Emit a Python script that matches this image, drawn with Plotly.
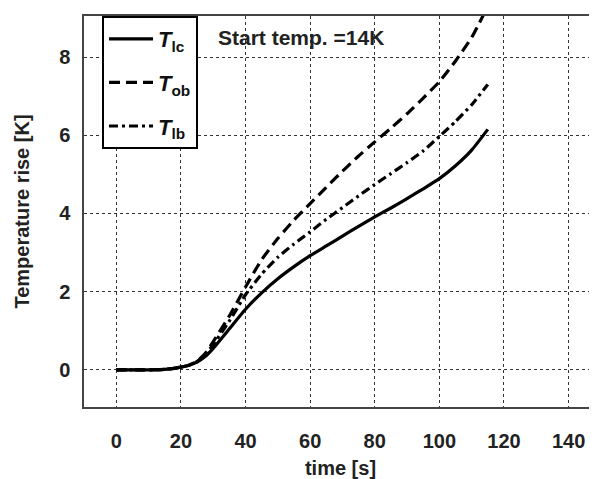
import plotly.graph_objects as go

time_s = [0, 10, 15, 20, 22.5, 25, 27.5, 30, 35, 40, 45, 50, 55, 60, 65, 70, 75, 80, 85, 90, 95, 100, 105, 110, 115]
T_lc = [0, 0, 0.01, 0.07, 0.12, 0.2, 0.34, 0.55, 1.05, 1.55, 1.97, 2.33, 2.64, 2.92, 3.17, 3.42, 3.67, 3.91, 4.14, 4.38, 4.63, 4.89, 5.22, 5.62, 6.15]
T_ob = [0, 0, 0.01, 0.07, 0.12, 0.22, 0.42, 0.72, 1.38, 2.12, 2.82, 3.36, 3.83, 4.25, 4.67, 5.08, 5.47, 5.83, 6.18, 6.55, 6.95, 7.37, 7.9, 8.5, 9.3]
T_lb = [0, 0, 0.01, 0.07, 0.12, 0.21, 0.39, 0.65, 1.25, 1.92, 2.45, 2.88, 3.22, 3.53, 3.85, 4.15, 4.45, 4.74, 5.02, 5.3, 5.6, 5.97, 6.35, 6.78, 7.3]

x_ticks = [0, 20, 40, 60, 80, 100, 120, 140]
y_ticks = [0, 2, 4, 6, 8]

names = ["<b><i>T</i></b><sub><b>lc</b></sub>", "<b><i>T</i></b><sub><b>ob</b></sub>", "<b><i>T</i></b><sub><b>lb</b></sub>"]
series = [T_lc, T_ob, T_lb]
dashes = ["solid", "11px,6px", "9px,4px,3px,4px"]

fig = go.Figure()
for i, (nm, ys, ds) in enumerate(zip(names, series, dashes)):
    fig.add_trace(go.Scatter(x=time_s, y=ys, mode="lines", name=nm, legendgroup=f"g{i}",
                             line=dict(color="black", width=3.2, dash=ds, shape="spline", smoothing=0.5)))

# The page body adds an 8px offset, so the figure is 8px smaller and margins shifted
font_family = "Liberation Sans, Arial, sans-serif"
fig.update_layout(
    width=589, height=471,
    margin=dict(l=76, r=0, t=8, b=72, autoexpand=False),
    paper_bgcolor="white", plot_bgcolor="white",
    font=dict(family=font_family, size=20, color="#222"),
    showlegend=True,
    legend=dict(x=(102 - 84) / 513, y=1.0, xanchor="left", yanchor="top",
                bgcolor="white", bordercolor="black", borderwidth=2,
                font=dict(size=22, color="#111"), tracegroupgap=12,
                itemwidth=44),
    xaxis=dict(range=[-10, 148.8], tickvals=x_ticks, ticktext=[str(v) for v in x_ticks],
               showgrid=True, gridcolor="#333", griddash="dot", gridwidth=1,
               showline=True, linecolor="#444", linewidth=1.5, mirror=True,
               zeroline=False, ticks="", ticklabelstandoff=15, automargin=True,
               tickfont=dict(size=20, weight="bold", color="#222"),
               title=dict(text="time [s]", standoff=28, font=dict(size=20, weight="bold", color="#222"))),
    yaxis=dict(range=[-0.95, 9.05], tickvals=y_ticks, ticktext=[str(v) for v in y_ticks],
               showgrid=True, gridcolor="#333", griddash="dot", gridwidth=1,
               showline=True, linecolor="#444", linewidth=1.5, mirror=False,
               zeroline=False, ticks="", ticklabelstandoff=8, automargin=True,
               tickfont=dict(size=20, weight="bold", color="#222"),
               title=dict(text="Temperature rise [K]", standoff=24, font=dict(size=20, weight="bold", color="#222"))),
)
fig.add_annotation(text="Start temp. =14K", xref="paper", yref="paper",
                   x=(216 - 84) / 513, y=1 - (38 - 16) / 391, xanchor="left", yanchor="middle",
                   showarrow=False, font=dict(size=21, weight="bold", color="#222"))
fig.write_html("out.html")
